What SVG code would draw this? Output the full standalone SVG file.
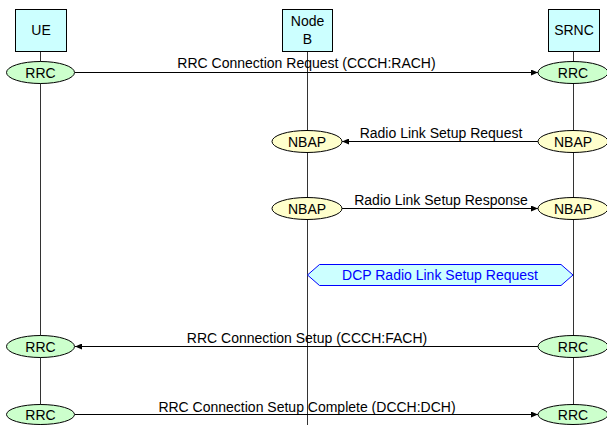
<svg xmlns="http://www.w3.org/2000/svg" width="607" height="425" viewBox="0 0 607 425">
<style>
text{font-family:"Liberation Sans",Arial,sans-serif;font-size:14px;fill:#000;text-anchor:middle}
.box{fill:#ccffff;stroke:#000;stroke-width:1}
.rrc{fill:#ccffcc;stroke:#000;stroke-width:1}
.nbap{fill:#ffffcc;stroke:#000;stroke-width:1}
.life{stroke:#333;stroke-width:1;fill:none}
.msg{stroke:#000;stroke-width:1;fill:none;marker-end:url(#ah)}
.dcp{fill:#ccffff;stroke:#0000ff;stroke-width:1}
.blue{fill:#0000ff}
</style>
<defs>
<marker id="ah" markerWidth="7" markerHeight="6" refX="7" refY="3" orient="auto" markerUnits="userSpaceOnUse">
<path d="M0,0 L7,3 L0,6 Z" fill="#000"/>
</marker>
</defs>
<g id="lifelines">
<line class="life" x1="40.5" y1="51" x2="40.5" y2="425"/>
<line class="life" x1="307.5" y1="51" x2="307.5" y2="425"/>
<line class="life" x1="573.5" y1="51" x2="573.5" y2="425"/>
</g>
<g id="UE"><rect class="box" x="15.5" y="9.5" width="51" height="42"/><text x="41" y="35">UE</text></g>
<g id="NodeB"><rect class="box" x="282.5" y="9.5" width="50" height="42"/><text x="307.5" y="26">Node</text><text x="307.5" y="44">B</text></g>
<g id="SRNC"><rect class="box" x="548.5" y="9.5" width="51" height="42"/><text x="574" y="35">SRNC</text></g>
<g id="connectors">
<line class="msg" x1="75" y1="72.5" x2="538" y2="72.5"/>
<line class="msg" x1="538" y1="141.5" x2="342" y2="141.5"/>
<line class="msg" x1="342" y1="208.5" x2="538" y2="208.5"/>
<line class="msg" x1="538" y1="346.5" x2="75" y2="346.5"/>
<line class="msg" x1="75" y1="414.5" x2="538" y2="414.5"/>
</g>
<g id="labels">
<text x="306.5" y="68">RRC Connection Request (CCCH:RACH)</text>
<text x="441" y="138">Radio Link Setup Request</text>
<text x="441" y="205">Radio Link Setup Response</text>
<text x="307" y="343">RRC Connection Setup (CCCH:FACH)</text>
<text x="307" y="412">RRC Connection Setup Complete (DCCH:DCH)</text>
</g>
<g id="RRC_UE_1"><ellipse class="rrc" cx="40.5" cy="72.5" rx="34" ry="11"/><text x="40.5" y="77.5">RRC</text></g>
<g id="RRC_SRNC_1"><ellipse class="rrc" cx="573" cy="72.5" rx="35" ry="11"/><text x="573" y="77.5">RRC</text></g>
<g id="NBAP_NB_1"><ellipse class="nbap" cx="307" cy="141.5" rx="35" ry="11"/><text x="307" y="146.5">NBAP</text></g>
<g id="NBAP_SRNC_1"><ellipse class="nbap" cx="573" cy="141.5" rx="35" ry="11"/><text x="573" y="146.5">NBAP</text></g>
<g id="NBAP_NB_2"><ellipse class="nbap" cx="307" cy="208.5" rx="35" ry="11"/><text x="307" y="213.5">NBAP</text></g>
<g id="NBAP_SRNC_2"><ellipse class="nbap" cx="573" cy="208.5" rx="35" ry="11"/><text x="573" y="213.5">NBAP</text></g>
<g id="DCP"><polygon class="dcp" points="307.5,275 319.5,264.5 561,264.5 573,275 561,285.5 319.5,285.5"/><text class="blue" x="440" y="279.5">DCP Radio Link Setup Request</text></g>
<g id="RRC_UE_2"><ellipse class="rrc" cx="40.5" cy="346.5" rx="34" ry="11"/><text x="40.5" y="351.5">RRC</text></g>
<g id="RRC_SRNC_2"><ellipse class="rrc" cx="573" cy="346.5" rx="35" ry="11"/><text x="573" y="351.5">RRC</text></g>
<g id="RRC_UE_3"><ellipse class="rrc" cx="40.5" cy="414.5" rx="34" ry="10"/><text x="40.5" y="419.5">RRC</text></g>
<g id="RRC_SRNC_3"><ellipse class="rrc" cx="573" cy="414.5" rx="35" ry="10"/><text x="573" y="419.5">RRC</text></g>
</svg>
